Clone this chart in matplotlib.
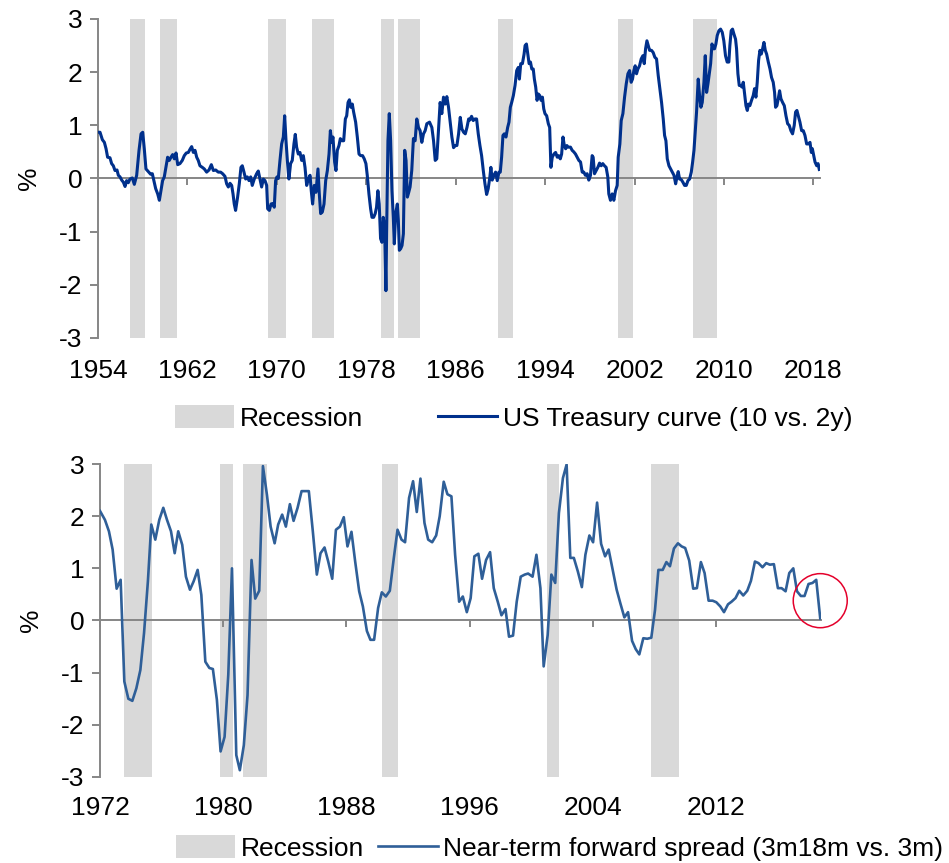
import matplotlib
matplotlib.use("Agg")
import matplotlib.pyplot as plt
from matplotlib.patches import Patch, Ellipse
from matplotlib.lines import Line2D

plt.rcParams['font.family'] = ['Liberation Sans', 'DejaVu Sans']
plt.rcParams['axes.unicode_minus'] = False

# ---------------- data ----------------
us_curve_year = [
    1954.00, 1954.18, 1954.39, 1954.57, 1954.72, 1954.86, 1955.07, 1955.22, 1955.37, 1955.52,
    1955.70, 1955.82, 1955.97, 1956.12, 1956.27, 1956.42, 1956.56, 1956.71, 1956.86, 1957.07,
    1957.25, 1957.46, 1957.67, 1957.85, 1958.00, 1958.14, 1958.29, 1958.50, 1958.71, 1958.86,
    1959.00, 1959.16, 1959.34, 1959.49, 1959.61, 1959.78, 1959.93, 1960.08, 1960.23, 1960.38,
    1960.53, 1960.68, 1960.83, 1960.98, 1961.13, 1961.33, 1961.54, 1961.72, 1961.90, 1962.08,
    1962.26, 1962.38, 1962.53, 1962.68, 1962.83, 1962.97, 1963.12, 1963.33, 1963.51, 1963.72,
    1963.93, 1964.14, 1964.32, 1964.53, 1964.76, 1964.97, 1965.15, 1965.36, 1965.51, 1965.66,
    1965.81, 1965.96, 1966.08, 1966.19, 1966.31, 1966.49, 1966.64, 1966.79, 1966.91, 1967.06,
    1967.21, 1967.36, 1967.51, 1967.66, 1967.80, 1967.98, 1968.19, 1968.34, 1968.49, 1968.64,
    1968.79, 1968.94, 1969.09, 1969.18, 1969.33, 1969.48, 1969.63, 1969.77, 1969.89, 1970.01,
    1970.13, 1970.28, 1970.43, 1970.58, 1970.70, 1970.82, 1970.94, 1971.08, 1971.23, 1971.38,
    1971.53, 1971.65, 1971.77, 1971.92, 1972.07, 1972.22, 1972.37, 1972.52, 1972.67, 1972.82,
    1972.97, 1973.08, 1973.20, 1973.35, 1973.50, 1973.68, 1973.80, 1973.92, 1974.07, 1974.22,
    1974.37, 1974.52, 1974.67, 1974.79, 1974.90, 1975.02, 1975.17, 1975.29, 1975.41, 1975.56,
    1975.68, 1975.83, 1975.98, 1976.13, 1976.25, 1976.37, 1976.49, 1976.61, 1976.75, 1976.87,
    1977.05, 1977.20, 1977.35, 1977.50, 1977.67, 1977.82, 1977.97, 1978.09, 1978.24, 1978.39,
    1978.51, 1978.66, 1978.80, 1978.92, 1979.04, 1979.16, 1979.28, 1979.40, 1979.52, 1979.64,
    1979.76, 1979.82, 1979.94, 1980.06, 1980.18, 1980.30, 1980.42, 1980.51, 1980.63, 1980.78,
    1980.87, 1980.96, 1981.08, 1981.20, 1981.32, 1981.44, 1981.56, 1981.68, 1981.80, 1981.92,
    1982.07, 1982.22, 1982.37, 1982.52, 1982.67, 1982.82, 1982.97, 1983.12, 1983.27, 1983.42,
    1983.66, 1983.87, 1984.02, 1984.17, 1984.31, 1984.46, 1984.61, 1984.76, 1984.91, 1985.06,
    1985.21, 1985.36, 1985.51, 1985.66, 1985.81, 1985.96, 1986.11, 1986.26, 1986.41, 1986.56,
    1986.71, 1986.86, 1987.01, 1987.16, 1987.27, 1987.42, 1987.57, 1987.72, 1987.87, 1988.02,
    1988.17, 1988.32, 1988.47, 1988.62, 1988.77, 1988.91, 1989.06, 1989.15, 1989.27, 1989.42,
    1989.57, 1989.72, 1989.87, 1989.99, 1990.11, 1990.23, 1990.35, 1990.50, 1990.65, 1990.77,
    1990.89, 1991.01, 1991.16, 1991.31, 1991.46, 1991.61, 1991.70, 1991.82, 1991.97, 1992.12,
    1992.21, 1992.33, 1992.45, 1992.57, 1992.69, 1992.81, 1992.94, 1993.04, 1993.16, 1993.28,
    1993.40, 1993.52, 1993.64, 1993.76, 1993.88, 1993.99, 1994.14, 1994.29, 1994.41, 1994.52,
    1994.64, 1994.79, 1994.94, 1995.09, 1995.21, 1995.36, 1995.48, 1995.60, 1995.72, 1995.84,
    1995.95, 1996.07, 1996.27, 1996.42, 1996.57, 1996.72, 1996.87, 1997.02, 1997.17, 1997.32,
    1997.46, 1997.61, 1997.76, 1997.91, 1998.06, 1998.21, 1998.30, 1998.42, 1998.57, 1998.72,
    1998.87, 1999.02, 1999.16, 1999.31, 1999.46, 1999.61, 1999.70, 1999.85, 2000.00, 2000.15,
    2000.30, 2000.45, 2000.54, 2000.69, 2000.81, 2000.96, 2001.11, 2001.26, 2001.41, 2001.56,
    2001.70, 2001.82, 2001.94, 2002.06, 2002.18, 2002.30, 2002.45, 2002.60, 2002.75, 2002.87,
    2002.99, 2003.11, 2003.23, 2003.35, 2003.52, 2003.67, 2003.82, 2003.97, 2004.12, 2004.27,
    2004.42, 2004.57, 2004.69, 2004.81, 2004.93, 2005.08, 2005.23, 2005.38, 2005.53, 2005.68,
    2005.80, 2005.91, 2006.03, 2006.18, 2006.33, 2006.48, 2006.63, 2006.78, 2006.93, 2007.08,
    2007.20, 2007.32, 2007.43, 2007.55, 2007.70, 2007.82, 2007.94, 2008.06, 2008.21, 2008.33,
    2008.45, 2008.57, 2008.69, 2008.81, 2008.93, 2009.05, 2009.16, 2009.28, 2009.40, 2009.55,
    2009.70, 2009.85, 2009.99, 2010.14, 2010.29, 2010.44, 2010.53, 2010.65, 2010.77, 2010.89,
    2011.04, 2011.13, 2011.25, 2011.37, 2011.49, 2011.61, 2011.73, 2011.85, 2011.97, 2012.09,
    2012.20, 2012.32, 2012.47, 2012.62, 2012.74, 2012.86, 2012.98, 2013.10, 2013.22, 2013.34,
    2013.46, 2013.58, 2013.70, 2013.82, 2013.97, 2014.12, 2014.26, 2014.41, 2014.53, 2014.62,
    2014.74, 2014.86, 2014.98, 2015.10, 2015.25, 2015.40, 2015.55, 2015.70, 2015.84, 2015.99,
    2016.14, 2016.29, 2016.41, 2016.53, 2016.65, 2016.80, 2016.95, 2017.10, 2017.25, 2017.40,
    2017.55, 2017.70, 2017.82, 2017.91, 2018.03, 2018.15, 2018.30, 2018.42, 2018.53,
]
us_curve_value = [
    0.87, 0.87, 0.73, 0.68, 0.56, 0.40, 0.39, 0.28, 0.24, 0.15,
    0.16, 0.06, 0.03, -0.03, -0.07, -0.15, -0.04, -0.08, -0.01, 0.01,
    -0.11, 0.06, 0.53, 0.84, 0.87, 0.56, 0.18, 0.13, 0.08, 0.09,
    -0.04, -0.19, -0.29, -0.41, -0.26, -0.04, 0.03, 0.21, 0.40, 0.34,
    0.40, 0.45, 0.37, 0.48, 0.26, 0.28, 0.34, 0.43, 0.48, 0.49,
    0.56, 0.60, 0.49, 0.53, 0.40, 0.34, 0.24, 0.21, 0.18, 0.12,
    0.16, 0.26, 0.15, 0.16, 0.12, 0.12, 0.09, 0.04, -0.10, -0.16,
    -0.09, -0.13, -0.29, -0.48, -0.60, -0.35, -0.10, 0.21, 0.24, 0.12,
    -0.01, 0.03, -0.04, 0.03, -0.13, -0.01, 0.09, 0.14, -0.01, -0.16,
    -0.01, -0.04, -0.13, -0.57, -0.60, -0.48, -0.47, -0.54, -0.04, 0.03,
    0.00, 0.34, 0.65, 0.78, 1.18, 0.71, 0.34, -0.01, 0.28, 0.34,
    0.65, 0.83, 0.59, 0.46, 0.49, 0.34, 0.43, 0.21, -0.13, -0.01,
    0.06, -0.23, -0.48, -0.13, -0.26, 0.18, -0.29, -0.66, -0.63, -0.48,
    -0.04, 0.15, 0.46, 0.90, 0.68, 0.78, 0.31, 0.15, 0.53, 0.62,
    0.75, 0.71, 0.71, 1.12, 1.18, 1.43, 1.48, 1.34, 1.40, 1.25,
    1.06, 0.78, 0.46, 0.43, 0.43, 0.37, 0.28, 0.06, -0.29, -0.57,
    -0.73, -0.73, -0.66, -0.54, -0.23, -0.48, -1.13, -1.20, -0.73, -0.91,
    -2.11, -1.04, 0.71, 1.22, 0.71, -0.23, -0.73, -1.23, -0.66, -0.48,
    -0.79, -1.35, -1.32, -1.26, -1.04, 0.53, 0.34, -0.35, -0.26, -0.16,
    0.15, 0.75, 0.71, 1.12, 0.96, 0.90, 0.68, 0.84, 0.90, 1.03,
    1.06, 0.96, 0.71, 0.34, 0.37, 0.90, 1.43, 1.22, 1.53, 1.40,
    1.54, 1.34, 1.06, 0.78, 0.58, 0.62, 0.62, 0.84, 1.15, 0.93,
    0.87, 0.84, 0.96, 1.12, 1.10, 1.17, 1.09, 1.12, 1.12, 0.84,
    0.62, 0.43, 0.15, -0.10, -0.30, -0.19, 0.03, 0.21, -0.03, 0.06,
    0.12, -0.04, 0.12, 0.12, 0.40, 0.81, 0.84, 0.78, 0.96, 1.06,
    1.34, 1.43, 1.56, 1.75, 2.03, 2.09, 1.87, 2.16, 2.16, 2.34,
    2.50, 2.53, 2.34, 2.16, 2.19, 2.06, 2.06, 1.87, 1.72, 1.47,
    1.59, 1.56, 1.47, 1.53, 1.31, 1.22, 1.18, 1.03, 0.96, 0.21,
    0.40, 0.46, 0.49, 0.40, 0.43, 0.37, 0.46, 0.78, 0.62, 0.56,
    0.62, 0.59, 0.59, 0.53, 0.50, 0.46, 0.40, 0.34, 0.31, 0.12,
    0.12, 0.06, 0.09, -0.03, 0.06, 0.43, 0.40, 0.09, 0.15, 0.21,
    0.29, 0.24, 0.28, 0.24, 0.21, 0.03, -0.29, -0.41, -0.29, -0.41,
    -0.23, -0.13, 0.40, 0.65, 1.09, 1.22, 1.53, 1.78, 1.97, 2.03,
    1.81, 1.87, 2.03, 2.12, 1.97, 2.06, 2.12, 2.25, 2.31, 2.16,
    2.44, 2.59, 2.50, 2.41, 2.41, 2.37, 2.28, 2.25, 1.94, 1.69,
    1.43, 1.12, 0.81, 0.71, 0.37, 0.24, 0.18, 0.12, 0.06, -0.10,
    0.03, 0.13, -0.01, -0.02, -0.07, -0.13, -0.13, -0.04, -0.01, 0.12,
    0.31, 0.53, 0.87, 1.25, 1.87, 1.56, 1.34, 1.43, 1.81, 2.31,
    1.62, 1.78, 1.97, 2.16, 2.53, 2.44, 2.44, 2.53, 2.69, 2.78,
    2.81, 2.75, 2.59, 2.31, 2.19, 2.19, 2.50, 2.78, 2.81, 2.72,
    2.62, 2.44, 1.97, 1.75, 1.75, 1.72, 1.81, 1.59, 1.37, 1.28,
    1.40, 1.37, 1.47, 1.56, 1.69, 1.53, 1.81, 2.22, 2.41, 2.34,
    2.44, 2.56, 2.41, 2.34, 2.19, 2.06, 1.90, 1.81, 1.62, 1.34,
    1.37, 1.50, 1.65, 1.50, 1.43, 1.37, 1.18, 1.03, 1.00, 0.90,
    0.84, 1.00, 1.25, 1.28, 1.18, 1.06, 0.90, 0.90, 0.81, 0.65,
    0.65, 0.68, 0.49, 0.56, 0.43, 0.31, 0.24, 0.28, 0.17,
]

fwd_year = [
    1972.00, 1972.32, 1972.58, 1972.82, 1973.08, 1973.34, 1973.58, 1973.84, 1974.10, 1974.36,
    1974.62, 1974.86, 1975.11, 1975.33, 1975.59, 1975.85, 1976.11, 1976.35, 1976.61, 1976.85,
    1977.08, 1977.34, 1977.58, 1977.84, 1978.08, 1978.34, 1978.58, 1978.84, 1979.10, 1979.33,
    1979.59, 1979.83, 1980.09, 1980.33, 1980.57, 1980.85, 1981.08, 1981.34, 1981.58, 1981.84,
    1982.08, 1982.34, 1982.58, 1982.84, 1983.08, 1983.34, 1983.57, 1983.83, 1984.07, 1984.33,
    1984.57, 1984.83, 1985.09, 1985.32, 1985.56, 1985.82, 1986.08, 1986.32, 1986.58, 1986.82,
    1987.08, 1987.32, 1987.58, 1987.83, 1988.07, 1988.33, 1988.57, 1988.83, 1989.07, 1989.33,
    1989.56, 1989.80, 1990.06, 1990.30, 1990.56, 1990.82, 1991.08, 1991.32, 1991.58, 1991.81,
    1992.07, 1992.33, 1992.57, 1992.81, 1993.07, 1993.31, 1993.57, 1993.83, 1994.06, 1994.32,
    1994.56, 1994.82, 1995.06, 1995.32, 1995.56, 1995.82, 1996.07, 1996.31, 1996.57, 1996.81,
    1997.07, 1997.33, 1997.57, 1997.83, 1998.07, 1998.33, 1998.56, 1998.82, 1999.06, 1999.32,
    1999.58, 1999.80, 2000.09, 2000.34, 2000.60, 2000.81, 2001.07, 2001.31, 2001.56, 2001.80,
    2002.06, 2002.30, 2002.54, 2002.77, 2003.03, 2003.29, 2003.52, 2003.78, 2004.02, 2004.28,
    2004.54, 2004.80, 2005.03, 2005.29, 2005.55, 2005.79, 2006.05, 2006.29, 2006.55, 2006.79,
    2007.02, 2007.28, 2007.54, 2007.80, 2008.04, 2008.26, 2008.54, 2008.78, 2009.01, 2009.27,
    2009.53, 2009.77, 2010.00, 2010.26, 2010.52, 2010.76, 2011.02, 2011.26, 2011.52, 2011.78,
    2012.02, 2012.28, 2012.52, 2012.78, 2013.01, 2013.27, 2013.51, 2013.77, 2014.03, 2014.27,
    2014.53, 2014.76, 2015.02, 2015.26, 2015.50, 2015.76, 2016.02, 2016.26, 2016.52, 2016.76,
    2017.02, 2017.26, 2017.51, 2017.75, 2018.01, 2018.27, 2018.51, 2018.77,
]
fwd_value = [
    2.10, 1.93, 1.71, 1.36, 0.61, 0.78, -1.17, -1.50, -1.54, -1.30,
    -0.95, -0.24, 0.75, 1.84, 1.55, 1.93, 2.16, 1.93, 1.71, 1.29,
    1.71, 1.45, 0.84, 0.59, 0.75, 0.97, 0.49, -0.79, -0.91, -0.93,
    -1.52, -2.51, -2.23, -1.04, 1.00, -2.58, -2.87, -2.39, -1.43, 1.16,
    0.42, 0.57, 2.96, 2.41, 1.80, 1.48, 1.84, 2.03, 1.80, 2.23,
    1.91, 2.16, 2.48, 2.48, 2.48, 1.71, 0.88, 1.29, 1.40, 1.13,
    0.80, 1.74, 1.80, 1.98, 1.42, 1.70, 1.13, 0.56, 0.27, -0.20,
    -0.37, -0.37, 0.24, 0.54, 0.46, 0.57, 1.20, 1.74, 1.55, 1.50,
    2.35, 2.67, 2.08, 2.72, 1.87, 1.55, 1.50, 1.63, 2.00, 2.66,
    2.42, 2.38, 1.26, 0.36, 0.46, 0.16, 0.43, 1.23, 1.28, 0.80,
    1.16, 1.31, 0.62, 0.36, 0.10, 0.22, -0.31, -0.29, 0.36, 0.84,
    0.88, 0.90, 0.84, 1.26, 0.62, -0.88, -0.28, 0.88, 0.72, 2.06,
    2.73, 2.99, 1.20, 1.20, 0.94, 0.64, 1.26, 1.63, 1.50, 2.26,
    1.47, 1.23, 1.36, 0.97, 0.59, 0.33, 0.06, 0.16, -0.39, -0.55,
    -0.65, -0.34, -0.35, -0.33, 0.20, 0.97, 0.97, 1.12, 1.04, 1.38,
    1.48, 1.42, 1.39, 1.15, 0.61, 0.62, 1.12, 0.91, 0.38, 0.38,
    0.35, 0.27, 0.16, 0.31, 0.36, 0.43, 0.57, 0.48, 0.57, 0.76,
    1.13, 1.10, 1.02, 1.10, 1.07, 1.08, 0.62, 0.62, 0.56, 0.91,
    1.00, 0.56, 0.47, 0.47, 0.70, 0.72, 0.78, 0.04,
]

top_rec_start = [1956.86, 1959.55, 1969.21, 1973.14, 1979.31, 1980.83, 1989.78, 2000.51, 2007.22]
top_rec_end = [1958.20, 1961.07, 1970.82, 1975.11, 1980.48, 1982.80, 1991.12, 2001.85, 2009.37]
bot_rec_start = [1973.58, 1979.79, 1981.30, 1990.32, 2001.03, 2007.80]
bot_rec_end = [1975.35, 1980.61, 1982.84, 1991.32, 2001.83, 2009.57]

top_ticks = [1954, 1962, 1970, 1978, 1986, 1994, 2002, 2010, 2018]
bot_ticks = [1972, 1980, 1988, 1996, 2004, 2012]
y_ticks = [-3, -2, -1, 0, 1, 2, 3]

top_label = "US Treasury curve (10 vs. 2y)"
bot_label = "Near-term forward spread (3m18m vs. 3m)"
rec_label = "Recession"

# ---------------- style ----------------
W, H = 949, 863
FS = 19
GRAY = '#868686'
REC = '#d9d9d9'
TOP_C = '#00308c'
BOT_C = '#2f5f98'

fig = plt.figure(figsize=(W / 100, H / 100), dpi=100)

def setup(ax, xlim, ticks, pad):
    ax.set_xlim(*xlim)
    ax.set_ylim(-3, 3)
    ax.set_yticks(y_ticks)
    ax.set_yticklabels([str(v) for v in y_ticks])
    ax.set_xticks(ticks)
    ax.set_xticklabels([str(t) for t in ticks])
    ax.spines['top'].set_visible(False)
    ax.spines['right'].set_visible(False)
    ax.spines['bottom'].set_position(('data', 0))
    for s in ('left', 'bottom'):
        ax.spines[s].set_color(GRAY)
        ax.spines[s].set_linewidth(1.4)
    ax.tick_params(axis='y', direction='out', length=6, width=1.4, color=GRAY,
                   labelsize=FS, pad=5)
    ax.tick_params(axis='x', direction='out', length=5, width=1.4, color=GRAY,
                   labelsize=FS, pad=pad)
    ax.set_ylabel('%', fontsize=FS, labelpad=13)
    ax.patch.set_alpha(0)

# top panel
ax1 = fig.add_axes([98 / W, 1 - 338 / H, (819.5 - 98) / W, (338 - 19) / H])
for s, e in zip(top_rec_start, top_rec_end):
    ax1.axvspan(s, e, color=REC, lw=0, zorder=0)
ax1.plot(us_curve_year, us_curve_value, color=TOP_C, lw=2.2, zorder=3,
         solid_joinstyle='round')
setup(ax1, (1954, 2018.55), top_ticks, 125)

# bottom panel
ax2 = fig.add_axes([100 / W, 1 - 777 / H, (820.7 - 100) / W, (777 - 464) / H])
for s, e in zip(bot_rec_start, bot_rec_end):
    ax2.axvspan(s, e, color=REC, lw=0, zorder=0)
ax2.plot(fwd_year, fwd_value, color=BOT_C, lw=1.9, zorder=3)
setup(ax2, (1972, 2018.8), bot_ticks, 121.5)

# red highlight circle around latest point
circ = Ellipse((fwd_year[-1], 0.38), width=54 / 15.41, height=54 / 52.1,
               fill=False, edgecolor='#e4002b', lw=1.1, zorder=5, clip_on=False)
ax2.add_patch(circ)

# legends
def add_legend(label, color, lw, x, y, colsp, hl):
    handles = [Patch(facecolor=REC, edgecolor='none', label=rec_label),
               Line2D([0], [0], color=color, lw=lw, label=label)]
    fig.legend(handles=handles, loc='center left', bbox_to_anchor=(x, y),
               ncol=2, frameon=False, fontsize=FS, borderpad=0, borderaxespad=0,
               handlelength=hl, handleheight=0.95, handletextpad=0.2,
               columnspacing=colsp)

add_legend(top_label, TOP_C, 2.2, 175 / W, 1 - 418 / H, 2.85, 2.25)
add_legend(bot_label, BOT_C, 1.9, 176 / W, 1 - 848 / H, 0.55, 2.25)

fig.savefig('out.png', dpi=100)
